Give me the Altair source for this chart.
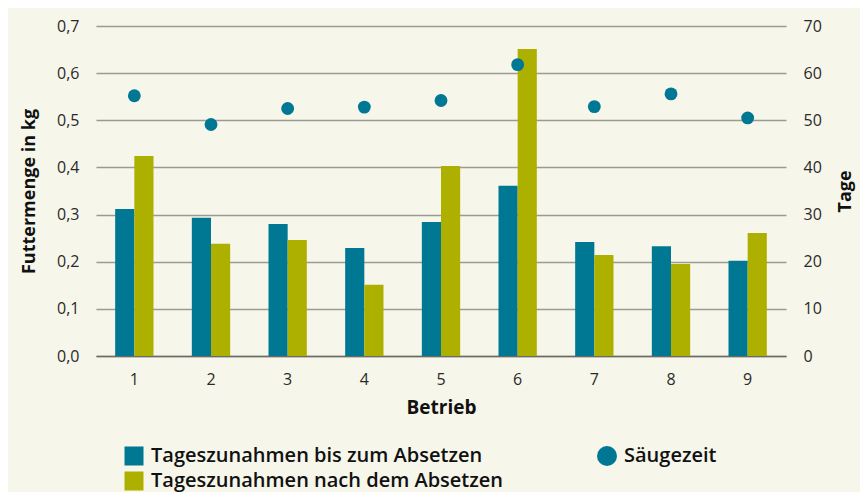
import altair as alt
import pandas as pd

# ---- data ----
betriebe = ["1", "2", "3", "4", "5", "6", "7", "8", "9"]
serien = ["Tageszunahmen bis zum Absetzen", "Tageszunahmen nach dem Absetzen"]
bis_absetzen = [0.312, 0.293, 0.280, 0.229, 0.284, 0.361, 0.242, 0.233, 0.202]
nach_absetzen = [0.424, 0.238, 0.246, 0.151, 0.403, 0.651, 0.214, 0.195, 0.261]
punkt_serie = "Säugezeit"
saeugezeit = [55.2, 49.1, 52.5, 52.8, 54.2, 61.8, 52.9, 55.6, 50.5]
kg_ticks = [0.0, 0.1, 0.2, 0.3, 0.4, 0.5, 0.6, 0.7]
tage_ticks = [0, 10, 20, 30, 40, 50, 60, 70]

TEAL = "#007894"
OLIVE = "#aeb000"
BG = "#f6f6ea"
FONT = "Open Sans"

bars_df = pd.DataFrame({
    "Betrieb": betriebe * 2,
    "Serie": [serien[0]] * len(betriebe) + [serien[1]] * len(betriebe),
    "Wert": bis_absetzen + nach_absetzen,
})
pts_df = pd.DataFrame({
    "Betrieb": betriebe,
    "Tage": saeugezeit,
    "Serie": [punkt_serie] * len(betriebe),
})

x_enc = alt.X(
    "Betrieb:N",
    sort=betriebe,
    scale=alt.Scale(paddingInner=0.5, paddingOuter=0.25),
    axis=alt.Axis(
        title="Betrieb", labelAngle=0, ticks=False, grid=False,
        domain=True, domainColor="#6b6b66", domainWidth=1.5,
        labelPadding=15, titlePadding=11, labelFontSize=16,
        titleFontSize=19, titleFontWeight="bold",
    ),
)

bars = alt.Chart(bars_df).mark_bar().encode(
    x=x_enc,
    xOffset=alt.XOffset("Serie:N", sort=serien,
                        scale=alt.Scale(paddingInner=0, paddingOuter=0)),
    y=alt.Y(
        "Wert:Q",
        scale=alt.Scale(domain=[0, 0.7]),
        axis=alt.Axis(
            values=kg_ticks,
            labelExpr="replace(format(datum.value, '.1f'), '.', ',')",
            title="Futtermenge in kg", grid=True, gridColor="#9c9b93",
            gridWidth=1.5, domain=False, ticks=False, labelPadding=17,
            titlePadding=18, labelFontSize=16, titleFontSize=18,
            titleFontWeight="bold",
        ),
    ),
    color=alt.Color(
        "Serie:N",
        scale=alt.Scale(domain=serien, range=[TEAL, OLIVE]),
        legend=alt.Legend(
            title=None, orient="none", legendX=28, legendY=420,
            direction="vertical", symbolType="square", symbolSize=361,
            symbolStrokeWidth=0, labelFontSize=20, labelFontWeight=600,
            rowPadding=5, labelOffset=7, labelLimit=500,
        ),
    ),
)

pts = alt.Chart(pts_df).mark_point(filled=True, size=165, opacity=1).encode(
    x=alt.X("Betrieb:N", sort=betriebe),
    y=alt.Y(
        "Tage:Q",
        scale=alt.Scale(domain=[0, 70]),
        axis=alt.Axis(
            orient="right", values=tage_ticks, title="Tage", grid=False,
            domain=False, ticks=False, labelPadding=17, labelFontSize=16,
            titleFontSize=18, titleFontWeight="bold", titleAngle=-90,
            titleBaseline="top", titlePadding=15,
        ),
    ),
    color=alt.Color(
        "Serie:N",
        scale=alt.Scale(domain=[punkt_serie], range=[TEAL]),
        legend=alt.Legend(
            title=None, orient="none", legendX=501, legendY=420,
            symbolType="circle", symbolSize=400, symbolStrokeWidth=0,
            labelFontSize=20, labelFontWeight=600, labelOffset=7,
        ),
    ),
)

chart = (
    alt.layer(bars, pts)
    .resolve_scale(y="independent", color="independent")
    .properties(
        width=690, height=330,
        autosize=alt.AutoSizeParams(type="none"),
        padding={"left": 88, "top": 18, "right": 74, "bottom": 136},
        background=BG,
    )
    .configure_view(stroke=None)
    .configure_axis(labelFont=FONT, titleFont=FONT, labelColor="#2a2a2a",
                    titleColor="#111111")
    .configure_legend(labelFont=FONT, labelColor="#111111", padding=0)
)

chart.save("out.html", embed_options={"renderer": "svg", "actions": False})
